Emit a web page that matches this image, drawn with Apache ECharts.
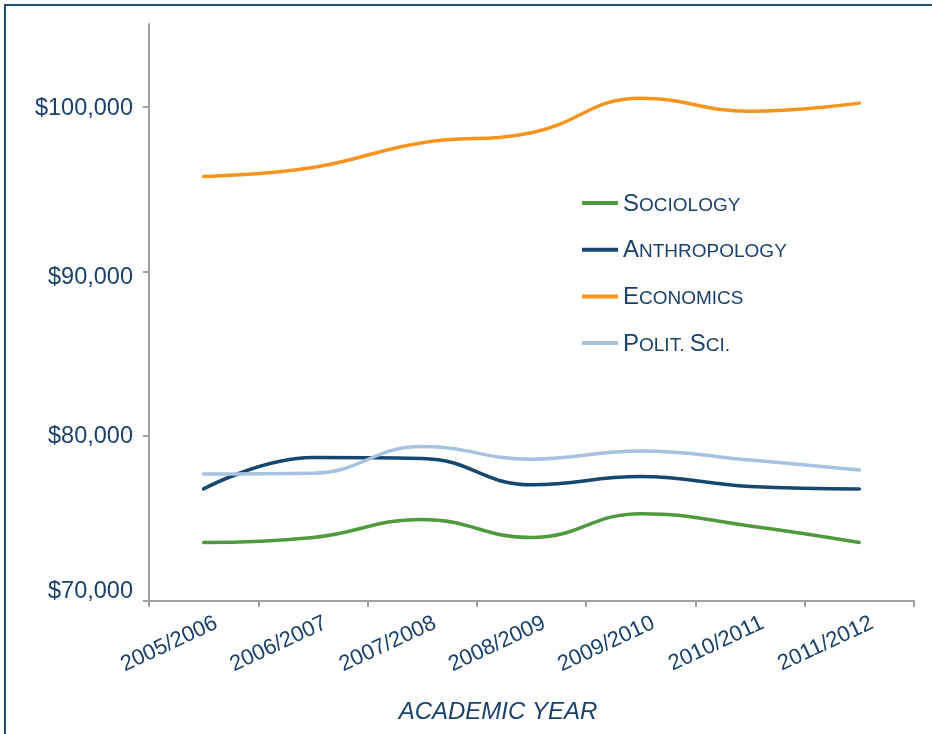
<!DOCTYPE html>
<html>
<head>
<meta charset="utf-8">
<script src="https://cdn.jsdelivr.net/npm/echarts@6/dist/echarts.min.js"></script>
<style>
html,body{margin:0;padding:0;background:#fff;}
#chart{width:932px;height:734px;}
</style>
</head>
<body>
<div id="chart"></div>
<script>
var categories = ['2005/2006','2006/2007','2007/2008','2008/2009','2009/2010','2010/2011','2011/2012'];
var seriesNames = ['Sociology','Anthropology','Economics','Polit. Sci.'];
var sociology = [73550, 73850, 74950, 73850, 75300, 74550, 73550];
var anthropology = [76800, 78700, 78650, 77050, 77550, 76950, 76800];
var economics = [95750, 96300, 97800, 98400, 100500, 99700, 100200];
var politSci = [77700, 77750, 79370, 78600, 79100, 78550, 77950];
var yTicks = [70000, 80000, 90000, 100000];
var axisTitle = 'ACADEMIC YEAR';

var TEXT = '#1b406c';
var FONT = 'Liberation Sans, Arial, sans-serif';
var colors = ['#4f9a3e', '#17466f', '#f7941e', '#a7c1e1'];
var values = [sociology, anthropology, economics, politSci];

function smallCaps(name) {
  var out = '';
  var cur = null, buf = '';
  for (var i = 0; i < name.length; i++) {
    var ch = name[i];
    var t = (ch >= 'A' && ch <= 'Z') ? 'a' : 'b';
    if (t !== cur) {
      if (buf) out += '{' + cur + '|' + buf + '}';
      buf = ''; cur = t;
    }
    buf += ch.toUpperCase();
  }
  if (buf) out += '{' + cur + '|' + buf + '}';
  return out;
}

var chart = echarts.init(document.getElementById('chart'), null, {renderer: 'canvas'});
var option = {
  backgroundColor: '#fff',
  animation: false,
  grid: {left: 149, right: 18, top: 24, bottom: 133, containLabel: false},
  legend: {
    data: seriesNames,
    orient: 'vertical',
    left: 577,
    top: 187,
    icon: 'rect',
    itemWidth: 36,
    itemHeight: 4,
    itemGap: 22.7,
    formatter: function (n) { return smallCaps(n); },
    textStyle: {
      rich: {
        a: {fontSize: 24, fontFamily: FONT, color: TEXT, lineHeight: 26, verticalAlign: 'bottom'},
        b: {fontSize: 19, fontFamily: FONT, color: TEXT, lineHeight: 26, verticalAlign: 'bottom', padding: [0, 0, 1, 0]}
      }
    }
  },
  xAxis: {
    type: 'category',
    data: categories,
    boundaryGap: true,
    axisLine: {show: true, lineStyle: {color: '#a0a0a0', width: 2}},
    axisTick: {show: true, length: 6, interval: 0, lineStyle: {color: '#a0a0a0', width: 2}},
    axisLabel: {
      interval: 0,
      rotate: 25,
      margin: 27,
      color: TEXT,
      fontSize: 22,
      fontFamily: FONT,
      padding: [0, -14, 0, 0]
    },
    splitLine: {show: false}
  },
  yAxis: {
    type: 'value',
    min: 70000,
    max: 105000,
    interval: 10000,
    axisLine: {show: true, lineStyle: {color: '#a0a0a0', width: 2}},
    axisTick: {show: true, length: 6, customValues: yTicks, lineStyle: {color: '#a0a0a0', width: 2}},
    axisLabel: {
      customValues: yTicks,
      margin: 16,
      color: TEXT,
      fontSize: 23.5,
      fontFamily: FONT,
      formatter: function (v) {
        var s = '$' + v.toLocaleString('en-US');
        if (v === 70000) return '{lo|' + s + '}';
        if (v === 90000) return '{mid|' + s + '}';
        if (v === 100000) return '{top|' + s + '}';
        return s;
      },
      rich: {
        lo: {fontSize: 23.5, fontFamily: FONT, color: TEXT, padding: [0, 0, 18, 0]},
        mid: {fontSize: 23.5, fontFamily: FONT, color: TEXT, padding: [12, 0, 0, 0]},
        top: {fontSize: 23.5, fontFamily: FONT, color: TEXT, padding: [4, 0, 0, 0]}
      }
    },
    splitLine: {show: false}
  },
  graphic: [
    {type: 'rect', shape: {x: 5, y: 5, width: 1400, height: 1400}, style: {fill: 'none', stroke: '#1f4e7d', lineWidth: 2}, silent: true, z: 100},
    {type: 'text', x: 498, y: 712, style: {text: axisTitle, align: 'center', verticalAlign: 'middle', fontSize: 24, fontStyle: 'italic', fontFamily: FONT, fill: TEXT}}
  ],
  series: seriesNames.map(function (n, i) {
    return {
      name: n,
      type: 'line',
      data: values[i],
      smooth: 0.45,
      symbol: 'none',
      lineStyle: {color: colors[i], width: 3.5, cap: 'round'},
      itemStyle: {color: colors[i]}
    };
  })
};
chart.setOption(option);
</script>
</body>
</html>
